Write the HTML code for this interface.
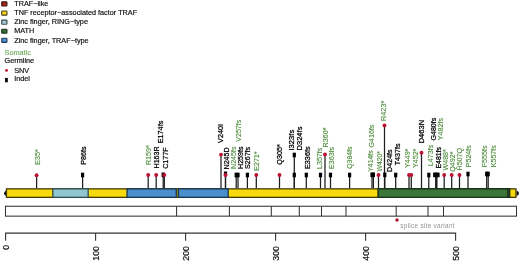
<!DOCTYPE html>
<html><head><meta charset="utf-8"><title>TRAF3 mutations</title>
<style>
html,body{margin:0;padding:0;background:#fff;}
svg{display:block;font-family:"Liberation Sans",Arial,sans-serif;}
</style></head><body>
<svg width="520" height="262" viewBox="0 0 520 262">
<rect width="520" height="262" fill="#fff"/>

<rect x="1.7" y="1.90" width="5.25" height="4.1" rx="0.7" fill="#a0261b" stroke="#3d120e" stroke-width="1.1"/>
<text transform="translate(14.2 6.15) scale(1.057 1)" font-size="6.9" fill="#111" stroke="#111" stroke-width="0.18">TRAF−like</text>
<rect x="1.7" y="11.00" width="5.25" height="4.1" rx="0.7" fill="#f5d420" stroke="#4a4210" stroke-width="1.1"/>
<text transform="translate(14.2 15.25) scale(1.057 1)" font-size="6.9" fill="#111" stroke="#111" stroke-width="0.18">TNF receptor−associated factor TRAF</text>
<rect x="1.7" y="20.10" width="5.25" height="4.1" rx="0.7" fill="#a6ccd3" stroke="#36474d" stroke-width="1.1"/>
<text transform="translate(14.2 24.35) scale(1.057 1)" font-size="6.9" fill="#111" stroke="#111" stroke-width="0.18">Zinc finger, RING−type</text>
<rect x="1.7" y="29.20" width="5.25" height="4.1" rx="0.7" fill="#356b35" stroke="#1a2e1a" stroke-width="1.1"/>
<text transform="translate(14.2 33.45) scale(1.057 1)" font-size="6.9" fill="#111" stroke="#111" stroke-width="0.18">MATH</text>
<rect x="1.7" y="38.30" width="5.25" height="4.1" rx="0.7" fill="#4f92cf" stroke="#1f3a58" stroke-width="1.1"/>
<text transform="translate(14.2 42.55) scale(1.057 1)" font-size="6.9" fill="#111" stroke="#111" stroke-width="0.18">Zinc finger, TRAF−type</text>
<text transform="translate(4.6 55.3) scale(1.057 1)" font-size="6.9" fill="#6aa85a" stroke="#6aa85a" stroke-width="0.1">Somatic</text>
<text transform="translate(4.6 63.3) scale(1.057 1)" font-size="6.9" fill="#111" stroke="#111" stroke-width="0.18">Germline</text>
<circle cx="6.5" cy="70.4" r="1.45" fill="#bd1230"/>
<text transform="translate(14.2 72.5) scale(1.057 1)" font-size="6.9" fill="#111" stroke="#111" stroke-width="0.18">SNV</text>
<rect x="5.1" y="77.9" width="2.7" height="4.4" fill="#000"/>
<text transform="translate(14.2 81.0) scale(1.057 1)" font-size="6.9" fill="#111" stroke="#111" stroke-width="0.18">Indel</text>
<line x1="36.6" y1="175.2" x2="36.6" y2="188.2" stroke="#1e1e1e" stroke-width="1.25"/>
<line x1="82.6" y1="175" x2="82.6" y2="188.2" stroke="#1e1e1e" stroke-width="1.25"/>
<line x1="148.2" y1="175" x2="148.2" y2="188.2" stroke="#1e1e1e" stroke-width="1.25"/>
<line x1="156.2" y1="175" x2="156.2" y2="188.2" stroke="#1e1e1e" stroke-width="1.25"/>
<line x1="163.2" y1="174.8" x2="163.2" y2="188.2" stroke="#1e1e1e" stroke-width="1.25"/>
<line x1="164.3" y1="175" x2="164.3" y2="188.2" stroke="#1e1e1e" stroke-width="1.25"/>
<line x1="221" y1="154.6" x2="221" y2="188.2" stroke="#1e1e1e" stroke-width="1.25"/>
<line x1="225.5" y1="175" x2="225.5" y2="188.2" stroke="#1e1e1e" stroke-width="1.25"/>
<line x1="225.5" y1="173.8" x2="225.5" y2="188.2" stroke="#1e1e1e" stroke-width="1.25"/>
<line x1="236.2" y1="175" x2="236.2" y2="188.2" stroke="#1e1e1e" stroke-width="1.25"/>
<line x1="238" y1="175" x2="238" y2="188.2" stroke="#1e1e1e" stroke-width="1.25"/>
<line x1="247.4" y1="175" x2="247.4" y2="188.2" stroke="#1e1e1e" stroke-width="1.25"/>
<line x1="256.3" y1="175" x2="256.3" y2="188.2" stroke="#1e1e1e" stroke-width="1.25"/>
<line x1="279.5" y1="175" x2="279.5" y2="188.2" stroke="#1e1e1e" stroke-width="1.25"/>
<line x1="294.3" y1="155" x2="294.3" y2="188.2" stroke="#1e1e1e" stroke-width="1.25"/>
<line x1="294.3" y1="175" x2="294.3" y2="188.2" stroke="#1e1e1e" stroke-width="1.25"/>
<line x1="306.3" y1="175" x2="306.3" y2="188.2" stroke="#1e1e1e" stroke-width="1.25"/>
<line x1="320.5" y1="175" x2="320.5" y2="188.2" stroke="#1e1e1e" stroke-width="1.25"/>
<line x1="325" y1="154.4" x2="325" y2="188.2" stroke="#1e1e1e" stroke-width="1.25"/>
<line x1="330.5" y1="175" x2="330.5" y2="188.2" stroke="#1e1e1e" stroke-width="1.25"/>
<line x1="349.6" y1="175" x2="349.6" y2="188.2" stroke="#1e1e1e" stroke-width="1.25"/>
<line x1="372" y1="174.8" x2="372" y2="188.2" stroke="#1e1e1e" stroke-width="1.25"/>
<line x1="373.4" y1="174.8" x2="373.4" y2="188.2" stroke="#1e1e1e" stroke-width="1.25"/>
<line x1="378.5" y1="175" x2="378.5" y2="188.2" stroke="#1e1e1e" stroke-width="1.25"/>
<line x1="384.5" y1="125.4" x2="384.5" y2="188.2" stroke="#1e1e1e" stroke-width="1.25"/>
<line x1="384.8" y1="174.8" x2="384.8" y2="188.2" stroke="#1e1e1e" stroke-width="1.25"/>
<line x1="395.7" y1="175" x2="395.7" y2="188.2" stroke="#1e1e1e" stroke-width="1.25"/>
<line x1="409.0" y1="175" x2="409.0" y2="188.2" stroke="#1e1e1e" stroke-width="1.25"/>
<line x1="411.3" y1="175" x2="411.3" y2="188.2" stroke="#1e1e1e" stroke-width="1.25"/>
<line x1="421.5" y1="152.8" x2="421.5" y2="188.2" stroke="#1e1e1e" stroke-width="1.25"/>
<line x1="428.8" y1="175" x2="428.8" y2="188.2" stroke="#1e1e1e" stroke-width="1.25"/>
<line x1="435.7" y1="174.9" x2="435.7" y2="188.2" stroke="#1e1e1e" stroke-width="1.25"/>
<line x1="436.3" y1="174.9" x2="436.3" y2="188.2" stroke="#1e1e1e" stroke-width="1.25"/>
<line x1="436.9" y1="174.9" x2="436.9" y2="188.2" stroke="#1e1e1e" stroke-width="1.25"/>
<line x1="444.2" y1="175" x2="444.2" y2="188.2" stroke="#1e1e1e" stroke-width="1.25"/>
<line x1="451.7" y1="175" x2="451.7" y2="188.2" stroke="#1e1e1e" stroke-width="1.25"/>
<line x1="459.5" y1="175" x2="459.5" y2="188.2" stroke="#1e1e1e" stroke-width="1.25"/>
<line x1="468" y1="174" x2="468" y2="188.2" stroke="#1e1e1e" stroke-width="1.25"/>
<line x1="486.7" y1="174" x2="486.7" y2="188.2" stroke="#1e1e1e" stroke-width="1.25"/>
<line x1="488.2" y1="174" x2="488.2" y2="188.2" stroke="#1e1e1e" stroke-width="1.25"/>
<path d="M6 190.6 L4 192.4 L4 194.2 L6 196 Z" fill="#111"/>
<path d="M516.5 190.4 L518.8 192 L518.8 194.6 L516.5 196.2 Z" fill="#111"/>
<rect x="6.45" y="188.85" width="509.50" height="8.50" fill="#f6da0c" stroke="#463b00" stroke-width="1.3"/>
<rect x="52.85" y="188.85" width="35.30" height="8.50" fill="#8fc6cf" stroke="#2f4a4e" stroke-width="1.3"/>
<rect x="127.05" y="188.85" width="49.25" height="8.50" fill="#4a8fcc" stroke="#17334f" stroke-width="1.3"/>
<rect x="178.40" y="188.85" width="49.75" height="8.50" fill="#4a8fcc" stroke="#17334f" stroke-width="1.3"/>
<line x1="177.35" y1="189" x2="177.35" y2="197.2" stroke="#7d7a1c" stroke-width="1"/>
<rect x="378.25" y="188.85" width="131.50" height="8.50" fill="#2c4a2a" stroke="#1a2c18" stroke-width="1.3"/>
<rect x="378.25" y="188.85" width="129.50" height="8.50" fill="#3b7537" stroke="#17321a" stroke-width="1.3"/>
<rect x="5.5" y="206.25" width="511" height="9.9" fill="#fff" stroke="#333" stroke-width="1.05"/>
<line x1="176.6" y1="206.25" x2="176.6" y2="216.15" stroke="#333" stroke-width="1.05"/>
<line x1="229.4" y1="206.25" x2="229.4" y2="216.15" stroke="#333" stroke-width="1.05"/>
<line x1="271.3" y1="206.25" x2="271.3" y2="216.15" stroke="#333" stroke-width="1.05"/>
<line x1="299.3" y1="206.25" x2="299.3" y2="216.15" stroke="#333" stroke-width="1.05"/>
<line x1="321.5" y1="206.25" x2="321.5" y2="216.15" stroke="#333" stroke-width="1.05"/>
<line x1="346" y1="206.25" x2="346" y2="216.15" stroke="#333" stroke-width="1.05"/>
<line x1="396.2" y1="206.25" x2="396.2" y2="216.15" stroke="#333" stroke-width="1.05"/>
<line x1="428" y1="206.25" x2="428" y2="216.15" stroke="#333" stroke-width="1.05"/>
<line x1="443.5" y1="206.25" x2="443.5" y2="216.15" stroke="#333" stroke-width="1.05"/>
<circle cx="397" cy="220" r="1.7" fill="#a8102c"/>
<text x="400.3" y="227.6" font-size="6.4" letter-spacing="0.29" fill="#929292">splice site variant</text>
<line x1="5.1" y1="233.1" x2="456.1" y2="233.1" stroke="#333" stroke-width="1.1"/>
<line x1="5.6" y1="233.1" x2="5.6" y2="240.7" stroke="#333" stroke-width="1.1"/>
<text transform="translate(9.3 244.9) rotate(-90)" text-anchor="end" font-size="8.7" fill="#111" stroke="#111" stroke-width="0.2">0</text>
<line x1="95.6" y1="233.1" x2="95.6" y2="240.7" stroke="#333" stroke-width="1.1"/>
<text transform="translate(99.3 246.2) rotate(-90)" text-anchor="end" font-size="8.7" fill="#111" stroke="#111" stroke-width="0.2">100</text>
<line x1="185.6" y1="233.1" x2="185.6" y2="240.7" stroke="#333" stroke-width="1.1"/>
<text transform="translate(189.3 246.2) rotate(-90)" text-anchor="end" font-size="8.7" fill="#111" stroke="#111" stroke-width="0.2">200</text>
<line x1="275.6" y1="233.1" x2="275.6" y2="240.7" stroke="#333" stroke-width="1.1"/>
<text transform="translate(279.3 246.2) rotate(-90)" text-anchor="end" font-size="8.7" fill="#111" stroke="#111" stroke-width="0.2">300</text>
<line x1="365.6" y1="233.1" x2="365.6" y2="240.7" stroke="#333" stroke-width="1.1"/>
<text transform="translate(369.3 246.2) rotate(-90)" text-anchor="end" font-size="8.7" fill="#111" stroke="#111" stroke-width="0.2">400</text>
<line x1="455.6" y1="233.1" x2="455.6" y2="240.7" stroke="#333" stroke-width="1.1"/>
<text transform="translate(459.3 246.2) rotate(-90)" text-anchor="end" font-size="8.7" fill="#111" stroke="#111" stroke-width="0.2">500</text>
<rect x="81.00" y="172.70" width="3.2" height="4.6" fill="#000"/>
<rect x="161.60" y="172.50" width="3.2" height="4.6" fill="#000"/>
<rect x="223.90" y="171.50" width="3.2" height="4.6" fill="#000"/>
<rect x="234.60" y="172.70" width="3.2" height="4.6" fill="#000"/>
<rect x="236.40" y="172.70" width="3.2" height="4.6" fill="#000"/>
<rect x="245.80" y="172.70" width="3.2" height="4.6" fill="#000"/>
<rect x="292.70" y="152.70" width="3.2" height="4.6" fill="#000"/>
<rect x="292.70" y="172.70" width="3.2" height="4.6" fill="#000"/>
<rect x="304.70" y="172.70" width="3.2" height="4.6" fill="#000"/>
<rect x="318.90" y="172.70" width="3.2" height="4.6" fill="#000"/>
<rect x="328.90" y="172.70" width="3.2" height="4.6" fill="#000"/>
<rect x="348.00" y="172.70" width="3.2" height="4.6" fill="#000"/>
<rect x="370.40" y="172.50" width="3.2" height="4.6" fill="#000"/>
<rect x="371.80" y="172.50" width="3.2" height="4.6" fill="#000"/>
<rect x="383.20" y="172.50" width="3.2" height="4.6" fill="#000"/>
<rect x="394.10" y="172.70" width="3.2" height="4.6" fill="#000"/>
<rect x="427.20" y="172.70" width="3.2" height="4.6" fill="#000"/>
<rect x="433.10" y="172.60" width="3.2" height="4.6" fill="#000"/>
<rect x="434.70" y="172.60" width="3.2" height="4.6" fill="#000"/>
<rect x="436.40" y="172.60" width="3.2" height="4.6" fill="#000"/>
<rect x="466.40" y="171.70" width="3.2" height="4.6" fill="#000"/>
<rect x="485.10" y="171.70" width="3.2" height="4.6" fill="#000"/>
<rect x="486.60" y="171.70" width="3.2" height="4.6" fill="#000"/>
<circle cx="36.6" cy="175.2" r="1.95" fill="#bd1230"/>
<circle cx="148.2" cy="175" r="1.95" fill="#bd1230"/>
<circle cx="156.2" cy="175" r="1.95" fill="#bd1230"/>
<circle cx="164.3" cy="175" r="1.95" fill="#bd1230"/>
<circle cx="221" cy="154.6" r="1.95" fill="#bd1230"/>
<circle cx="225.5" cy="175" r="1.95" fill="#bd1230"/>
<circle cx="256.3" cy="175" r="1.95" fill="#bd1230"/>
<circle cx="279.5" cy="175" r="1.95" fill="#bd1230"/>
<circle cx="325" cy="154.4" r="1.95" fill="#bd1230"/>
<circle cx="378.5" cy="175" r="1.95" fill="#bd1230"/>
<circle cx="384.5" cy="125.4" r="1.95" fill="#bd1230"/>
<circle cx="409.0" cy="175" r="1.95" fill="#bd1230"/>
<circle cx="411.3" cy="175" r="1.95" fill="#bd1230"/>
<circle cx="421.5" cy="152.8" r="1.95" fill="#bd1230"/>
<circle cx="444.2" cy="175" r="1.95" fill="#bd1230"/>
<circle cx="451.7" cy="175" r="1.95" fill="#bd1230"/>
<circle cx="459.5" cy="175" r="1.95" fill="#bd1230"/>
<text transform="translate(39.8 164.7) rotate(-90)" font-size="7.12" fill="#4e8c3d" stroke="#4e8c3d" stroke-width="0.12">E35*</text>
<text transform="translate(86.2 164.7) rotate(-90)" font-size="7.12" fill="#000000" stroke="#000000" stroke-width="0.25">P86fs</text>
<text transform="translate(151.1 165.1) rotate(-90)" font-size="7.12" fill="#4e8c3d" stroke="#4e8c3d" stroke-width="0.12">R159*</text>
<text transform="translate(159.0 168.5) rotate(-90)" font-size="7.12" fill="#000000" stroke="#000000" stroke-width="0.25">H163R</text>
<text transform="translate(163.0 143.3) rotate(-90)" font-size="7.25" fill="#000000" stroke="#000000" stroke-width="0.25">E174fs</text>
<text transform="translate(167.6 168.8) rotate(-90)" font-size="7.12" fill="#000000" stroke="#000000" stroke-width="0.25">C177F</text>
<text transform="translate(223.2 142.9) rotate(-90)" font-size="7.25" fill="#000000" stroke="#000000" stroke-width="0.25">V240I</text>
<text transform="translate(229.1 169.5) rotate(-90)" font-size="7.12" fill="#000000" stroke="#000000" stroke-width="0.25">N245D</text>
<text transform="translate(236.1 169.0) rotate(-90)" font-size="7.12" fill="#4e8c3d" stroke="#4e8c3d" stroke-width="0.12">N245fs</text>
<text transform="translate(241.4 141.8) rotate(-90)" font-size="7.12" fill="#4e8c3d" stroke="#4e8c3d" stroke-width="0.12">V257fs</text>
<text transform="translate(243.4 169.0) rotate(-90)" font-size="7.12" fill="#000000" stroke="#000000" stroke-width="0.25">H259fs</text>
<text transform="translate(250.4 169.0) rotate(-90)" font-size="7.12" fill="#000000" stroke="#000000" stroke-width="0.25">S267fs</text>
<text transform="translate(258.8 170.8) rotate(-90)" font-size="7.12" fill="#4e8c3d" stroke="#4e8c3d" stroke-width="0.12">E271*</text>
<text transform="translate(282.0 164.7) rotate(-90)" font-size="7.25" fill="#000000" stroke="#000000" stroke-width="0.25">Q305*</text>
<text transform="translate(294.1 150.5) rotate(-90)" font-size="7.6" fill="#000000" stroke="#000000" stroke-width="0.25">I323fs</text>
<text transform="translate(301.8 150.5) rotate(-90)" font-size="7.55" fill="#000000" stroke="#000000" stroke-width="0.25">D324fs</text>
<text transform="translate(310.3 169.0) rotate(-90)" font-size="7.25" fill="#000000" stroke="#000000" stroke-width="0.25">E336fs</text>
<text transform="translate(322.2 169.0) rotate(-90)" font-size="7.12" fill="#4e8c3d" stroke="#4e8c3d" stroke-width="0.12">L357fs</text>
<text transform="translate(327.6 147.5) rotate(-90)" font-size="7.25" fill="#4e8c3d" stroke="#4e8c3d" stroke-width="0.12">R360*</text>
<text transform="translate(333.9 169.0) rotate(-90)" font-size="7.12" fill="#4e8c3d" stroke="#4e8c3d" stroke-width="0.12">E363fs</text>
<text transform="translate(352.1 168.8) rotate(-90)" font-size="6.95" fill="#4e8c3d" stroke="#4e8c3d" stroke-width="0.12">Q384fs</text>
<text transform="translate(373.3 171.8) rotate(-90)" font-size="6.9" fill="#4e8c3d" stroke="#4e8c3d" stroke-width="0.12">Y414fs</text>
<text transform="translate(374.3 147.5) rotate(-90)" font-size="7.12" fill="#4e8c3d" stroke="#4e8c3d" stroke-width="0.12">G416fs</text>
<text transform="translate(382.3 171.4) rotate(-90)" font-size="6.8" fill="#4e8c3d" stroke="#4e8c3d" stroke-width="0.12">W420*</text>
<text transform="translate(386.0 120.9) rotate(-90)" font-size="7.25" fill="#4e8c3d" stroke="#4e8c3d" stroke-width="0.12">R423*</text>
<text transform="translate(392.2 171.9) rotate(-90)" font-size="7.12" fill="#000000" stroke="#000000" stroke-width="0.25">D424fs</text>
<text transform="translate(400.2 165.3) rotate(-90)" font-size="7.12" fill="#000000" stroke="#000000" stroke-width="0.25">T437fs</text>
<text transform="translate(410.2 168.0) rotate(-90)" font-size="7.12" fill="#4e8c3d" stroke="#4e8c3d" stroke-width="0.12">Y449*</text>
<text transform="translate(418.0 168.0) rotate(-90)" font-size="7.12" fill="#4e8c3d" stroke="#4e8c3d" stroke-width="0.12">Y452*</text>
<text transform="translate(424.1 143.3) rotate(-90)" font-size="7.5" fill="#000000" stroke="#000000" stroke-width="0.25">D463N</text>
<text transform="translate(433.4 166.1) rotate(-90)" font-size="7.12" fill="#4e8c3d" stroke="#4e8c3d" stroke-width="0.12">L473fs</text>
<text transform="translate(436.2 140.6) rotate(-90)" font-size="7.12" fill="#000000" stroke="#000000" stroke-width="0.25">G480fs</text>
<text transform="translate(440.9 168.6) rotate(-90)" font-size="6.95" fill="#000000" stroke="#000000" stroke-width="0.25">E481fs</text>
<text transform="translate(442.7 140.2) rotate(-90)" font-size="7.12" fill="#4e8c3d" stroke="#4e8c3d" stroke-width="0.12">Y482fs</text>
<text transform="translate(448.0 170.5) rotate(-90)" font-size="7.12" fill="#4e8c3d" stroke="#4e8c3d" stroke-width="0.12">W488*</text>
<text transform="translate(455.2 171.7) rotate(-90)" font-size="7.12" fill="#4e8c3d" stroke="#4e8c3d" stroke-width="0.12">Q492*</text>
<text transform="translate(462.4 170.5) rotate(-90)" font-size="7.12" fill="#4e8c3d" stroke="#4e8c3d" stroke-width="0.12">H507Q</text>
<text transform="translate(470.6 167.3) rotate(-90)" font-size="7.12" fill="#4e8c3d" stroke="#4e8c3d" stroke-width="0.12">P524fs</text>
<text transform="translate(486.9 167.3) rotate(-90)" font-size="7.12" fill="#4e8c3d" stroke="#4e8c3d" stroke-width="0.12">F555fs</text>
<text transform="translate(495.7 167.3) rotate(-90)" font-size="7.12" fill="#4e8c3d" stroke="#4e8c3d" stroke-width="0.12">K557fs</text>
</svg></body></html>
